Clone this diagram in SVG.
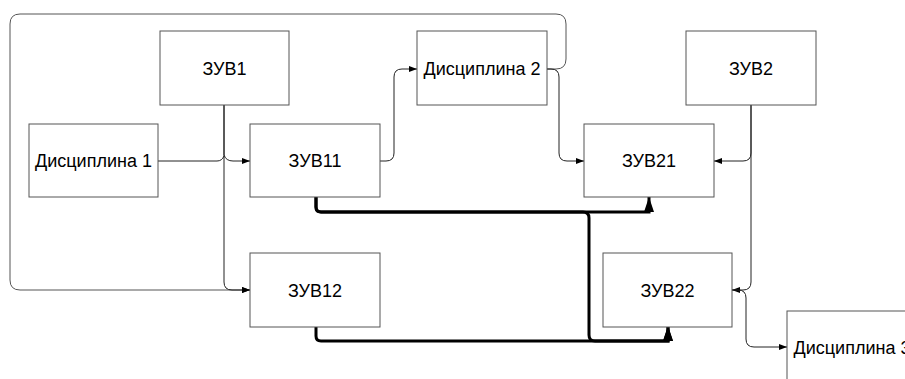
<svg xmlns="http://www.w3.org/2000/svg" width="905" height="379" viewBox="0 0 905 379">
<style>
.box{fill:#fff;stroke:#555;stroke-width:1}
.lbl{font-family:"Liberation Sans",Arial,sans-serif;font-size:18px;fill:#000;text-anchor:middle}
.thin{fill:none;stroke:#222;stroke-width:1}
.loop{fill:none;stroke:#555;stroke-width:1}
.thick{fill:none;stroke:#000;stroke-width:3}
</style>
<defs>
<marker id="a" viewBox="0 0 8 6" refX="8" refY="3" markerWidth="8" markerHeight="6" markerUnits="userSpaceOnUse" orient="auto"><path d="M0,0 L8,3 L0,6 z" fill="#000"/></marker>
<marker id="b" viewBox="0 0 15 10" refX="15" refY="5" markerWidth="15" markerHeight="10" markerUnits="userSpaceOnUse" orient="auto"><path d="M0,0 L15,5 L0,10 z" fill="#000"/></marker>
</defs>
<rect width="905" height="379" fill="#fff"/>
<g id="connectors">
<path class="loop" d="M547,69 H556 Q566,69 566,59 V24 Q566,14 556,14 H20 Q10,14 10,24 V280 Q10,290 20,290 H250" marker-end="url(#a)"/>
<path class="thin" d="M158,161 H217 Q222,161 224,156"/>
<path class="thin" d="M224,105 V155 Q226,161 233,161 H250" marker-end="url(#a)"/>
<path class="thin" d="M224,105 V282 Q224,290 232,290 H250" marker-end="url(#a)"/>
<path class="thin" d="M380,161 H386 Q394,161 394,153 V77 Q394,69 402,69 H417" marker-end="url(#a)"/>
<path class="thin" d="M547,69 H551 Q559,69 559,77 V153 Q559,161 567,161 H584" marker-end="url(#a)"/>
<path class="thin" d="M751,105 V153 Q751,161 743,161 H714" marker-end="url(#a)"/>
<path class="thin" d="M751,105 V282 Q751,290 743,290 H732" marker-end="url(#a)"/>
<path class="thin" d="M732,290 H738 Q746,290 746,298 V339 Q746,347 754,347 H787" marker-end="url(#a)"/>
<path class="thick" d="M316,197 V207 Q316,212 321,212 H649 V197" marker-end="url(#b)"/>
<path class="thick" d="M316,197 V207 Q316,212 321,212 H583 Q589,212 589,218 V335 Q589,341 595,341 H668 V326" marker-end="url(#b)"/>
<path class="thick" d="M316,327 V336 Q316,341 321,341 H668 V326" marker-end="url(#b)"/>
</g>
<g id="zuv1"><rect class="box" x="160" y="31" width="129" height="74"/><text class="lbl" x="224.5" y="74.5">ЗУВ1</text></g>
<g id="disc1"><rect class="box" x="29" y="124" width="129" height="73"/><text class="lbl" x="93.5" y="167">Дисциплина 1</text></g>
<g id="zuv11"><rect class="box" x="250" y="124" width="130" height="73"/><text class="lbl" x="315" y="167">ЗУВ11</text></g>
<g id="disc2"><rect class="box" x="417" y="31" width="130" height="74"/><text class="lbl" x="482" y="75">Дисциплина 2</text></g>
<g id="zuv2"><rect class="box" x="686" y="31" width="130" height="74"/><text class="lbl" x="751" y="74.5">ЗУВ2</text></g>
<g id="zuv21"><rect class="box" x="584" y="124" width="130" height="73"/><text class="lbl" x="649" y="167">ЗУВ21</text></g>
<g id="zuv12"><rect class="box" x="250" y="253" width="130" height="74"/><text class="lbl" x="315" y="296.5">ЗУВ12</text></g>
<g id="zuv22"><rect class="box" x="603" y="253" width="129" height="74"/><text class="lbl" x="667.5" y="296.5">ЗУВ22</text></g>
<g id="disc3"><rect class="box" x="787" y="311" width="130" height="74"/><text class="lbl" x="852" y="354">Дисциплина 3</text></g>
</svg>
